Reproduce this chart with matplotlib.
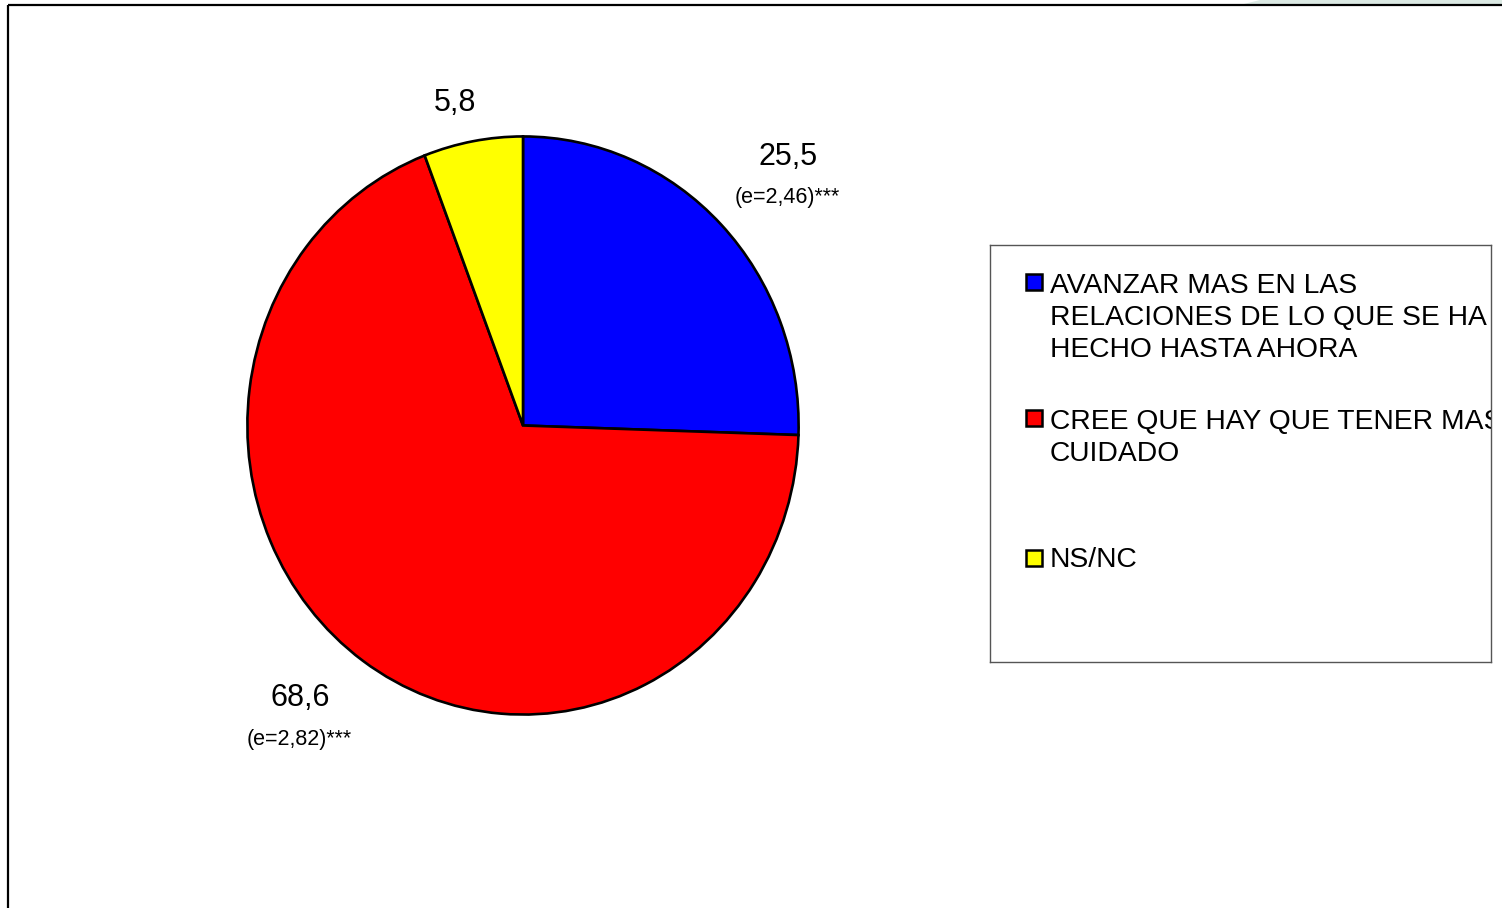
import matplotlib
matplotlib.use("Agg")
import matplotlib.pyplot as plt
from matplotlib.patches import Rectangle, Polygon

plt.rcParams['font.family'] = ['Liberation Sans', 'DejaVu Sans']

categories = ["AVANZAR MAS EN LAS\nRELACIONES DE LO QUE SE HA\nHECHO HASTA AHORA",
              "CREE QUE HAY QUE TENER MAS\nCUIDADO",
              "NS/NC"]
values = [25.5, 68.6, 5.8]
value_labels = ["25,5", "68,6", "5,8"]
error_labels = ["(e=2,46)***", "(e=2,82)***", ""]
colors = ["#0000FF", "#FF0000", "#FFFF00"]

W, H = 1502, 908
fig = plt.figure(figsize=(W / 100, H / 100), dpi=100)
fig.patch.set_facecolor("white")

# overlay axes in pixel coordinates
ov = fig.add_axes([0, 0, 1, 1])
ov.set_xlim(0, W)
ov.set_ylim(H, 0)
ov.axis("off")

# faint green background artifact at top-right
ov.add_patch(Polygon([(1260, 0), (1502, 0), (1502, 5), (1240, 5)], closed=True,
                     facecolor="#dbe9e3", edgecolor="none"))
# outer frame lines
ov.plot([8, 8], [5, H + 5], color="black", lw=1.6, solid_capstyle="butt")
ov.plot([8, W + 5], [5, 5], color="black", lw=1.6, solid_capstyle="butt")

# pie axes (slightly elliptical, as in the reference)
px0, px1, py0, py1 = 246, 800, 135, 716
pax = fig.add_axes([px0 / W, 1 - py1 / H, (px1 - px0) / W, (py1 - py0) / H])
pax.pie(values, colors=colors, startangle=90, counterclock=False,
        wedgeprops=dict(edgecolor="black", linewidth=1.9))
pax.set_aspect("auto")
pax.set_xlim(-1.005, 1.005)
pax.set_ylim(-1.005, 1.005)
pax.axis("off")

# value labels
label_pos = [(788, 157), (300, 698), (455, 103)]
err_pos = [(787, 197), (299, 739), None]
for i in range(len(values)):
    x, y = label_pos[i]
    ov.text(x, y, value_labels[i], fontsize=22, ha="center", va="center", color="black")
    if error_labels[i]:
        ex, ey = err_pos[i]
        ov.text(ex, ey, error_labels[i], fontsize=15.5, ha="center", va="center", color="black")

# legend box
lx0, lx1, ly0, ly1 = 990, 1491, 245, 662
lax = fig.add_axes([lx0 / W, 1 - ly1 / H, (lx1 - lx0) / W, (ly1 - ly0) / H])
lax.set_xlim(lx0, lx1)
lax.set_ylim(ly1, ly0)
lax.set_xticks([])
lax.set_yticks([])
for s in lax.spines.values():
    s.set_color("#555555")
    s.set_linewidth(1.0)

entry_first_line = [286, 422, 560]
marker_centers = [282, 418, 558]
for i, cat in enumerate(categories):
    lax.add_patch(Rectangle((1026, marker_centers[i] - 8), 16, 16, facecolor=colors[i],
                            edgecolor="black", linewidth=1.8, clip_on=False))
    for j, line in enumerate(cat.split("\n")):
        lax.text(1050, entry_first_line[i] + 32 * j, line, fontsize=20.3,
                 ha="left", va="center", color="black", clip_on=True)

fig.savefig("out.png", dpi=100, facecolor="white")
